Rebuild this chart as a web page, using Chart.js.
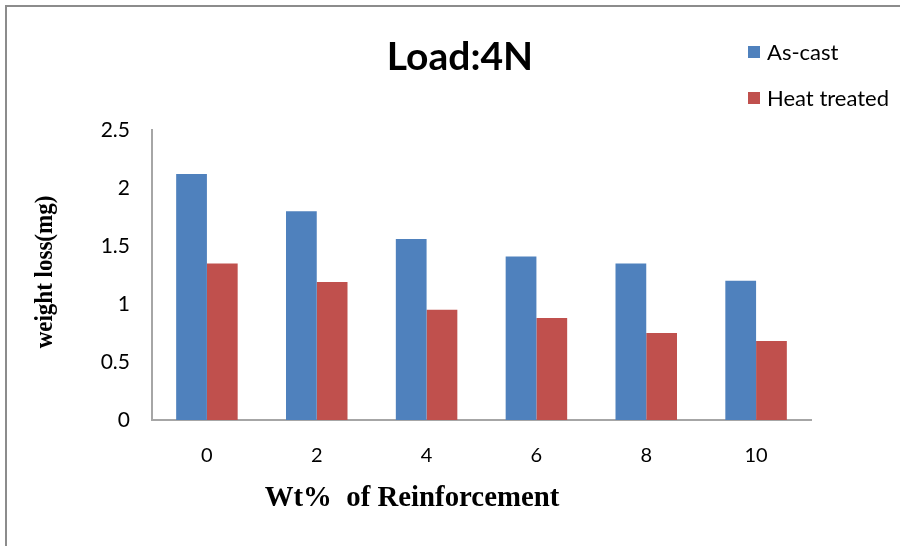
<!DOCTYPE html>
<html>
<head>
<meta charset="utf-8">
<title>Load:4N</title>
<script src="https://cdn.jsdelivr.net/npm/chart.js@4/dist/chart.umd.min.js"></script>
<style>
  html, body { margin: 0; padding: 0; background: #fff; }
  #wrap { width: 900px; height: 546px; position: relative; }
</style>
</head>
<body>
<div id="wrap"><canvas id="chartId" width="900" height="546"></canvas></div>
<script>
// data
const categories = ['0', '2', '4', '6', '8', '10'];
const asCast = [2.12, 1.80, 1.56, 1.41, 1.35, 1.20];
const heatTreated = [1.35, 1.19, 0.95, 0.88, 0.75, 0.68];
const seriesNames = ['As-cast', 'Heat treated'];
const seriesColors = ['#4F81BD', '#C0504D'];
const yTicks = [0, 0.5, 1, 1.5, 2, 2.5];

const chartTitle = 'Load:4N';
const xTitle = 'Wt%  of Reinforcement';
const yTitle = 'weight loss(mg)';

// title, axis titles, legend and frame drawn by hand
const decorations = {
  id: 'decorations',
  afterDraw(chart) {
    const ctx = chart.ctx;
    ctx.save();

    // outer frame, top and left only
    ctx.strokeStyle = '#8c8c8c';
    ctx.lineWidth = 2;
    ctx.beginPath();
    ctx.moveTo(6, 546);
    ctx.lineTo(6, 6);
    ctx.lineTo(900, 6);
    ctx.stroke();

    ctx.fillStyle = '#000';
    ctx.textAlign = 'center';
    ctx.textBaseline = 'middle';
    ctx.font = 'bold 39px Lato';
    ctx.fillText(chartTitle, 460, 57);

    // tall narrow serif, squeezed sideways a little
    ctx.save();
    ctx.translate(412, 498);
    ctx.scale(0.96, 1);
    ctx.font = 'bold 30px "Liberation Serif"';
    ctx.fillText(xTitle, 0, 0);
    ctx.restore();

    ctx.save();
    ctx.translate(46, 272);
    ctx.rotate(-Math.PI / 2);
    ctx.scale(0.92, 1);
    ctx.font = 'bold 25px "Liberation Serif"';
    ctx.fillText(yTitle, 0, 0);
    ctx.restore();

    // legend
    ctx.textAlign = 'left';
    ctx.font = '22px Lato';
    chart.data.datasets.forEach((ds, i) => {
      const y = 52 + i * 46;
      ctx.fillStyle = ds.backgroundColor;
      ctx.fillRect(748, y - 6, 12, 12);
      ctx.fillStyle = '#000';
      ctx.fillText(ds.label, 767, y + 1);
    });

    ctx.restore();
  }
};

var chrt = document.getElementById('chartId').getContext('2d');
var chartId = new Chart(chrt, {
  type: 'bar',
  data: {
    labels: categories,
    datasets: [{
      label: seriesNames[0],
      data: asCast,
      backgroundColor: seriesColors[0],
      barPercentage: 1,
      categoryPercentage: 0.56
    }, {
      label: seriesNames[1],
      data: heatTreated,
      backgroundColor: seriesColors[1],
      barPercentage: 1,
      categoryPercentage: 0.56
    }]
  },
  options: {
    responsive: false,
    animation: false,
    layout: { padding: { top: 130, right: 89, left: 0, bottom: 0 } },
    plugins: {
      legend: { display: false },
      title: { display: false },
      tooltip: { enabled: false }
    },
    scales: {
      x: {
        grid: { display: false, drawTicks: false },
        border: { color: '#a6a6a6', width: 2 },
        ticks: { color: '#000', font: { family: 'Lato', size: 20 }, padding: 24 },
        afterFit: (scale) => { scale.height = 126; }
      },
      y: {
        min: 0,
        max: 2.5,
        afterBuildTicks: (scale) => { scale.ticks = yTicks.map(v => ({ value: v })); },
        grid: { display: false, drawTicks: false },
        border: { color: '#a6a6a6', width: 2 },
        ticks: {
          color: '#000',
          font: { family: 'Lato', size: 21 },
          padding: 22,
          callback: (v) => String(v)
        },
        afterFit: (scale) => { scale.width = 152; }
      }
    }
  },
  plugins: [decorations]
});
</script>
</body>
</html>
